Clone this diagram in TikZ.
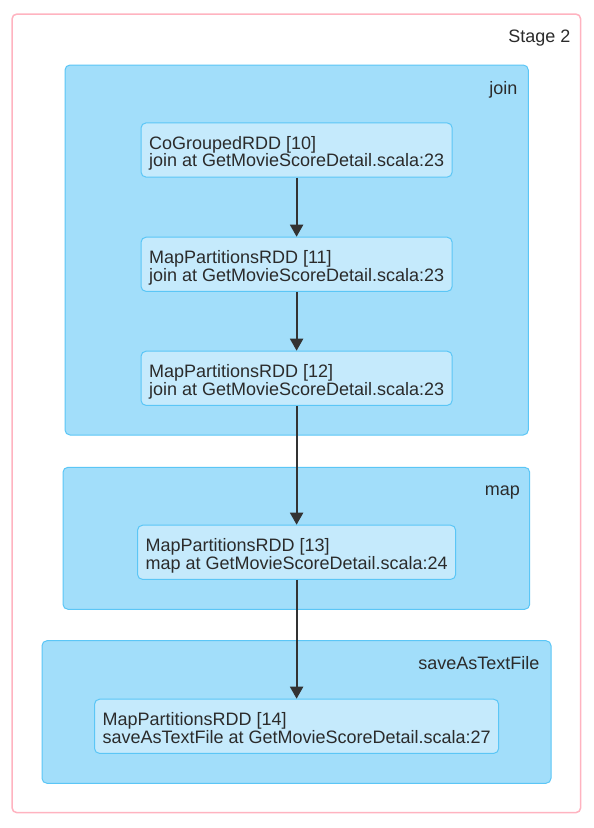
\documentclass[tikz,border=0pt]{standalone}
\usepackage{fontspec}
\setmainfont{Liberation Sans}
\usetikzlibrary{positioning,arrows.meta}

\definecolor{stageline}{HTML}{FFB3C0}
\definecolor{clusterfill}{HTML}{A2DEFA}
\definecolor{clusterline}{HTML}{5BC6F6}
\definecolor{rddfill}{HTML}{C5EAFC}
\definecolor{edgecol}{HTML}{333333}
\definecolor{txt}{HTML}{2B2B2B}

\newcommand{\rddtext}[2]{\rule{0pt}{20pt}#1\\#2\rule[-4pt]{0pt}{4pt}}

\begin{document}
\begin{tikzpicture}[x=1pt, y=-1pt,
  stagebox/.style={draw=stageline, line width=1.5pt, fill=white, rounded corners=5pt, inner sep=0pt},
  cluster/.style={draw=clusterline, line width=1pt, fill=clusterfill, rounded corners=5pt, inner sep=0pt},
  rdd/.style={draw=clusterline, line width=1pt, fill=rddfill, rounded corners=5pt,
    align=left, inner xsep=8pt, inner ysep=6.2pt, text=txt,
    font=\fontsize{18}{16.7}\selectfont},
  lbl/.style={anchor=base east, inner sep=0pt, text=txt, font=\fontsize{18}{17}\selectfont},
  edge/.style={draw=edgecol, line width=2pt, -{Triangle[width=13pt,length=12pt]}}]
\useasboundingbox (0,0) rectangle (594,828);

\def\xm{296.6}
\def\ya{150}
\def\yb{264.3}
\def\yc{378.3}
\def\yd{552.3}
\def\ye{726.3}

% stage and clusters
\node[stagebox, minimum width=568.7pt, minimum height=798.7pt] (stage) at (296.35, 413.35) {};
\node[lbl] (stagelbl) at (570.7, 42.7) {Stage 2};

\node[cluster, minimum width=463.3pt, minimum height=370pt] (join) at (296.65, 250) {};
\node[lbl] (joinlbl) at (517.7, 94) {join};

\node[cluster, minimum width=466.7pt, minimum height=142pt] (map) at (296.35, 538.3) {};
\node[lbl] (maplbl) at (520, 495.3) {map};

\node[cluster, minimum width=509pt, minimum height=142.6pt] (save) at (296.5, 712) {};
\node[lbl] (savelbl) at (539.5, 669) {saveAsTextFile};

% rdds
\node[rdd] (r10) at (\xm, \ya) {\rddtext{CoGroupedRDD [10]}{join at GetMovieScoreDetail.scala:23}};
\node[rdd] (r11) at (\xm, \yb) {\rddtext{MapPartitionsRDD [11]}{join at GetMovieScoreDetail.scala:23}};
\node[rdd] (r12) at (\xm, \yc) {\rddtext{MapPartitionsRDD [12]}{join at GetMovieScoreDetail.scala:23}};
\node[rdd] (r13) at (\xm, \yd) {\rddtext{MapPartitionsRDD [13]}{map at GetMovieScoreDetail.scala:24}};
\node[rdd] (r14) at (\xm, \ye) {\rddtext{MapPartitionsRDD [14]}{saveAsTextFile at GetMovieScoreDetail.scala:27}};

\draw[edge] (r10) -- (r11);
\draw[edge] (r11) -- (r12);
\draw[edge] (r12) -- (r13);
\draw[edge] (r13) -- (r14);

\end{tikzpicture}
\end{document}
